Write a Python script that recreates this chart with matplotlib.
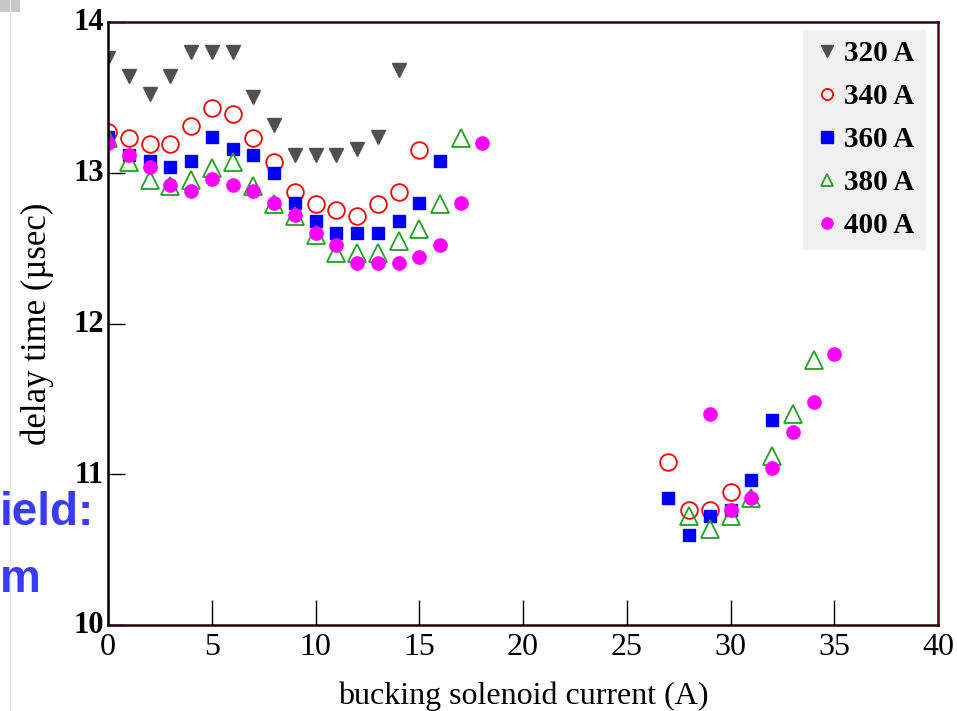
import matplotlib
matplotlib.use("Agg")
import matplotlib.pyplot as plt
from matplotlib.patches import Rectangle
from matplotlib.lines import Line2D

plt.rcParams['font.family'] = ['Liberation Serif', 'DejaVu Serif']

x320 = [0, 1, 2, 3, 4, 5, 6, 7, 8, 9, 10, 11, 12, 13, 14]
y320 = [13.76, 13.64, 13.52, 13.64, 13.80, 13.80, 13.80, 13.50, 13.32, 13.12, 13.12, 13.12, 13.16, 13.24, 13.68]

x340 = [0, 1, 2, 3, 4, 5, 6, 7, 8, 9, 10, 11, 12, 13, 14, 15, 27, 28, 29, 30]
y340 = [13.27, 13.23, 13.19, 13.19, 13.31, 13.43, 13.39, 13.23, 13.07, 12.87, 12.79, 12.75, 12.71, 12.79, 12.87, 13.15,
        11.08, 10.76, 10.76, 10.88]

x360 = [0, 1, 2, 3, 4, 5, 6, 7, 8, 9, 10, 11, 12, 13, 14, 15, 16, 27, 28, 29, 30, 31, 32]
y360 = [13.24, 13.12, 13.08, 13.04, 13.08, 13.24, 13.16, 13.12, 13.00, 12.80, 12.68, 12.60, 12.60, 12.60, 12.68, 12.80, 13.08,
        10.84, 10.60, 10.72, 10.76, 10.96, 11.36]

x380 = [0, 1, 2, 3, 4, 5, 6, 7, 8, 9, 10, 11, 12, 13, 14, 15, 16, 17, 28, 29, 30, 31, 32, 33, 34]
y380 = [13.23, 13.07, 12.95, 12.91, 12.95, 13.03, 13.07, 12.91, 12.79, 12.71, 12.59, 12.47, 12.47, 12.47, 12.55, 12.63, 12.79, 13.23,
        10.72, 10.64, 10.72, 10.84, 11.12, 11.40, 11.76]

x400 = [0, 1, 2, 3, 4, 5, 6, 7, 8, 9, 10, 11, 12, 13, 14, 15, 16, 17, 18, 29, 30, 31, 32, 33, 34, 35]
y400 = [13.20, 13.12, 13.04, 12.92, 12.88, 12.96, 12.92, 12.88, 12.80, 12.72, 12.60, 12.52, 12.40, 12.40, 12.40, 12.44, 12.52, 12.80, 13.20,
        11.40, 10.76, 10.84, 11.04, 11.28, 11.48, 11.80]

labels = ['320 A', '340 A', '360 A', '380 A', '400 A']
xticks = [0, 5, 10, 15, 20, 25, 30, 35, 40]
yticks = [10, 11, 12, 13, 14]

fig = plt.figure(figsize=(9.57, 7.11), dpi=100)
ax = fig.add_axes([108/957, 1-625/711, (938-108)/957, (625-22)/711])

ax.plot(x320, y320, linestyle='none', marker='v', ms=10, color='#505050', mec='#505050', label=labels[0])
ax.plot(x340, y340, linestyle='none', marker='o', ms=12, mfc='none', mec='#ff0000', mew=1.3, label=labels[1])
ax.plot(x360, y360, linestyle='none', marker='s', ms=9, color='#0000ff', mec='#0000ff', label=labels[2])
ax.plot(x380, y380, linestyle='none', marker='^', ms=13, mfc='none', mec='#22a022', mew=1.3, label=labels[3])
ax.plot(x400, y400, linestyle='none', marker='o', ms=9.5, color='#ff00ff', mec='#ff00ff', label=labels[4])

ax.set_xlim(0, 40)
ax.set_ylim(10, 14)
ax.set_xticks(xticks)
ax.set_yticks(yticks)
ax.set_xticklabels([str(t) for t in xticks], fontsize=23)
ax.set_yticklabels([str(t) for t in yticks], fontsize=22, fontweight='bold', va='bottom')
ax.tick_params(axis='x', direction='in', length=18, width=1, pad=6, top=False)
ax.tick_params(axis='y', direction='in', length=12, width=1, pad=3, right=False)
# shift y tick labels so their centre sits slightly above the tick, as in the reference
import matplotlib.transforms as mtransforms
offset = mtransforms.ScaledTranslation(0, -11/72, fig.dpi_scale_trans)
for lab in ax.get_yticklabels():
    lab.set_transform(lab.get_transform() + offset)

ax.spines['left'].set_color('black')
ax.spines['bottom'].set_color('#2a0000')
ax.spines['top'].set_color('#2a0a0a')
ax.spines['right'].set_color('#6a0000')
for s in ax.spines.values():
    s.set_linewidth(1.8)

ax.set_xlabel('bucking solenoid current (A)', fontsize=23, labelpad=14)
ax.set_ylabel('delay time (\u00b5sec)', fontsize=25, labelpad=14)

leg = ax.legend(loc='upper right', bbox_to_anchor=(0.984, 0.987), prop={'size': 21, 'weight': 'bold'},
                frameon=True, handletextpad=0.15, handlelength=0.9, labelspacing=0.55, borderpad=0.35,
                borderaxespad=0.0, fancybox=False)
leg.get_frame().set_facecolor('#f0f0f0')
leg.get_frame().set_edgecolor('#f0f0f0')
leg.get_frame().set_alpha(1)
for h in leg.legend_handles:
    h.set_markersize(8)

# slide artefacts
fig.text(0.0, 1-513/711, 'ield:', color='#3a3aff', fontsize=33, fontweight='bold',
         family=['Liberation Sans', 'DejaVu Sans'], va='center', ha='left')
fig.text(0.0, 1-580/711, 'm', color='#3a3aff', fontsize=33, fontweight='bold',
         family=['Liberation Sans', 'DejaVu Sans'], va='center', ha='left')
fig.patches.append(Rectangle((0, 1-12/711), 20/957, 12/711, transform=fig.transFigure,
                             facecolor='#c8c8c8', edgecolor='none'))
fig.lines.append(Line2D([10/957, 10/957], [0, 1], transform=fig.transFigure, color='#e6e6e6', lw=1))

fig.savefig('out.png', dpi=100)
